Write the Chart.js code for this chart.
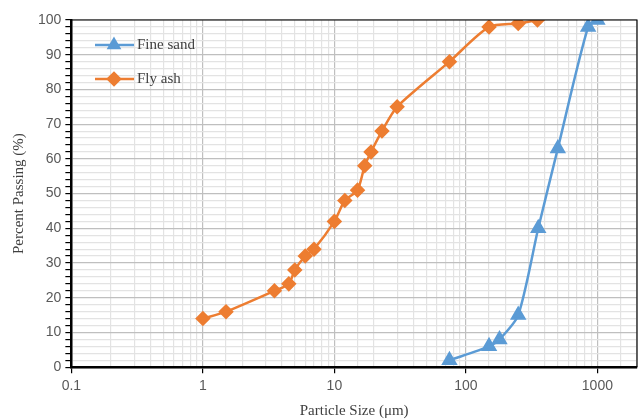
<!DOCTYPE html>
<html>
<head>
<meta charset="utf-8">
<script src="https://cdn.jsdelivr.net/npm/chart.js@4/dist/chart.umd.min.js"></script>
<style>
  html, body { margin: 0; padding: 0; background: #fff; }
  #wrap { width: 638px; height: 420px; }
</style>
</head>
<body>
<div id="wrap"><canvas id="psdChart" width="638" height="420"></canvas></div>
<script>
    // data
    const sandSize = [75, 150, 180, 250, 355, 500, 850, 1000];
    const sandPassing = [2, 6, 8, 15, 40, 63, 98, 100];
    const ashSize = [1, 1.5, 3.5, 4.5, 5, 6, 7, 10, 12, 15, 17, 19, 23, 30, 75, 150, 250, 350];
    const ashPassing = [14, 16, 22, 24, 28, 32, 34, 42, 48, 51, 58, 62, 68, 75, 88, 98, 99, 100];
    const xTickLabels = [0.1, 1, 10, 100, 1000];
    const seriesNames = ['Fine sand', 'Fly ash'];

    const blue = '#5B9BD5';
    const orange = '#ED7D31';

    function toPoints(xs, ys) {
        return xs.map((x, i) => ({ x: x, y: ys[i] }));
    }

    // frame round the plot area + legend inside it
    const framePlugin = {
        id: 'frame',
        afterDatasetsDraw(chart) {
            const { ctx, chartArea: a } = chart;
            ctx.save();
            ctx.strokeStyle = '#000';
            ctx.lineWidth = 1.2;
            ctx.beginPath();
            ctx.moveTo(a.left, a.top);
            ctx.lineTo(a.right, a.top);
            ctx.lineTo(a.right, a.bottom);
            ctx.stroke();
            ctx.restore();
        },
        afterDraw(chart) {
            const { ctx } = chart;
            ctx.save();
            ctx.font = '15px "Liberation Serif", "Times New Roman", serif';
            ctx.textBaseline = 'middle';
            chart.data.datasets.forEach((ds, i) => {
                const y = 45 + i * 34;
                ctx.strokeStyle = ds.borderColor;
                ctx.lineWidth = 2.5;
                ctx.beginPath();
                ctx.moveTo(95, y);
                ctx.lineTo(134, y);
                ctx.stroke();
                ctx.fillStyle = ds.borderColor;
                Chart.helpers.drawPoint(ctx, {
                    pointStyle: ds.pointStyle, radius: 6, borderWidth: 1
                }, 114, y);
                ctx.fillStyle = '#404040';
                ctx.fillText(ds.label, 137, y);
            });
            ctx.restore();
        }
    };

    const ctxPsd = document.getElementById('psdChart');
    if (ctxPsd) {
        const psdChart = new Chart(ctxPsd.getContext('2d'), {
            type: 'scatter',
            data: {
                datasets: [
                    {
                        label: seriesNames[0],
                        data: toPoints(sandSize, sandPassing),
                        showLine: true,
                        borderColor: blue,
                        backgroundColor: blue,
                        borderWidth: 2.5,
                        pointStyle: 'triangle',
                        pointRadius: 7,
                        pointHoverRadius: 7,
                        tension: 0.25
                    },
                    {
                        label: seriesNames[1],
                        data: toPoints(ashSize, ashPassing),
                        showLine: true,
                        borderColor: orange,
                        backgroundColor: orange,
                        borderWidth: 2.5,
                        pointStyle: 'rectRot',
                        pointRadius: 6,
                        pointHoverRadius: 6,
                        tension: 0.25
                    }
                ]
            },
            options: {
                responsive: false,
                animation: false,
                layout: {
                    autoPadding: false,
                    padding: { top: 20, right: 1, left: 10, bottom: 0 }
                },
                scales: {
                    x: {
                        type: 'logarithmic',
                        min: 0.1,
                        max: 2000,
                        afterFit: function(scale) {
                            scale.paddingRight = 0;
                        },
                        border: { color: '#000', width: 2.5 },
                        grid: {
                            color: ctx => (ctx.tick && ctx.tick.major) ? '#bfbfbf' : '#e3e3e3',
                            lineWidth: 1.2,
                            tickLength: 6,
                            tickColor: ctx => (ctx.tick && ctx.tick.major) ? '#000' : 'rgba(0,0,0,0)'
                        },
                        ticks: {
                            autoSkip: false,
                            maxRotation: 0,
                            color: '#595959',
                            font: { family: '"Liberation Sans", Arial, sans-serif', size: 14 },
                            padding: 5,
                            callback: function(value) {
                                return xTickLabels.includes(value) ? String(value) : '';
                            }
                        },
                        title: {
                            display: true,
                            text: 'Particle Size (μm)',
                            color: '#404040',
                            font: { family: '"Liberation Serif", "Times New Roman", serif', size: 15 },
                            padding: { top: 2, bottom: 0 }
                        }
                    },
                    y: {
                        min: 0,
                        max: 100,
                        border: { color: '#000', width: 2.5 },
                        grid: {
                            color: ctx => (ctx.tick && ctx.tick.value % 10 === 0) ? '#bfbfbf' : '#e3e3e3',
                            lineWidth: 1.2,
                            tickLength: 6,
                            tickColor: '#000'
                        },
                        ticks: {
                            stepSize: 2,
                            autoSkip: false,
                            color: '#595959',
                            font: { family: '"Liberation Sans", Arial, sans-serif', size: 14 },
                            padding: 4,
                            callback: function(value) {
                                return value % 10 === 0 ? value : '';
                            }
                        },
                        title: {
                            display: true,
                            text: 'Percent Passing (%)',
                            color: '#404040',
                            font: { family: '"Liberation Serif", "Times New Roman", serif', size: 15 },
                            padding: { top: 0, bottom: 6 }
                        }
                    }
                },
                plugins: {
                    legend: { display: false },
                    tooltip: { enabled: false }
                }
            },
            plugins: [framePlugin]
        });
    }
</script>
</body>
</html>
